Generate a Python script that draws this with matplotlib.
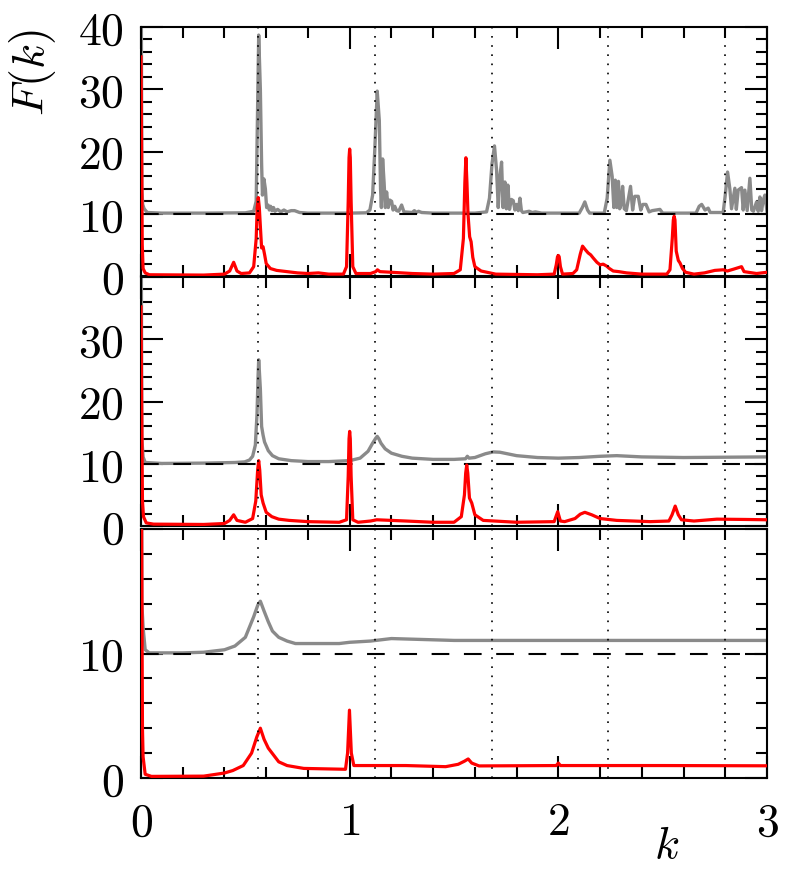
import matplotlib
matplotlib.use("Agg")
import matplotlib.pyplot as plt
from matplotlib.ticker import MultipleLocator

plt.rcParams['mathtext.fontset'] = 'cm'
plt.rcParams['font.family'] = ['DejaVu Serif']

# --- data ---
# top panel
k_gray_top = [0.0, 0.004, 0.008, 0.015, 0.03, 0.1, 0.3, 0.5, 0.54, 0.552, 0.558, 0.564, 0.572, 0.578,
              0.582, 0.589, 0.596, 0.602, 0.609, 0.615, 0.621, 0.628, 0.635, 0.642, 0.655, 0.67, 0.685,
              0.70, 0.72, 0.736, 0.76, 0.8, 1.0, 1.08, 1.097, 1.11, 1.12, 1.132, 1.142, 1.148, 1.152,
              1.158, 1.165, 1.171, 1.177, 1.185, 1.192, 1.201, 1.208, 1.216, 1.225, 1.235, 1.249, 1.26,
              1.3, 1.31, 1.32, 1.33, 1.345, 1.4, 1.6, 1.656, 1.67, 1.682, 1.694, 1.704, 1.712, 1.72,
              1.728, 1.735, 1.744, 1.751, 1.758, 1.766, 1.775, 1.784, 1.792, 1.80, 1.808, 1.816, 1.823,
              1.83, 1.86, 1.875, 1.89, 1.92, 2.1, 2.115, 2.127, 2.14, 2.15, 2.22, 2.234, 2.247, 2.258,
              2.266, 2.273, 2.28, 2.288, 2.294, 2.301, 2.308, 2.316, 2.326, 2.346, 2.356, 2.366, 2.383,
              2.395, 2.405, 2.42, 2.435, 2.45, 2.487, 2.5, 2.66, 2.675, 2.687, 2.703, 2.718, 2.728, 2.79,
              2.80, 2.811, 2.822, 2.83, 2.846, 2.853, 2.862, 2.878, 2.886, 2.894, 2.905, 2.918, 2.927,
              2.935, 2.950, 2.958, 2.966, 2.974, 2.982, 2.990, 3.0]
F_gray_top = [60, 14, 11.5, 10.8, 10.2, 10.1, 10.1, 10.15, 10.4, 12, 25, 38.7, 30, 18,
              13, 15.6, 14, 11, 11.4, 10.6, 11.2, 10.5, 11, 10.4, 10.7, 10.3, 10.6,
              10.3, 10.5, 10.5, 10.2, 10.1, 10.1, 10.15, 10.6, 13, 20, 29.7, 25, 14, 11,
              18.8, 15, 11, 13.5, 11, 12.2, 12, 10.6, 11.2, 10.5, 10.4, 11.4, 10.3,
              10.2, 10.5, 10.2, 10.4, 10.2, 10.1, 10.1, 10.3, 12.5, 18, 20.9, 17, 11, 16,
              18.3, 11, 15.1, 10.8, 14.6, 10.7, 12.3, 12.1, 10.6, 11.5, 10.5, 12.5, 10.5,
              10.2, 10.4, 10.2, 10.3, 10.1, 10.1, 11, 11.9, 10.6, 10.1, 10.1, 12.5, 18.6, 16,
              11, 15.4, 11, 15.2, 10.8, 11.5, 14.4, 10.8, 10.5, 14.4, 10.6, 12.8, 12.8,
              10.6, 11.5, 11.5, 10.3, 10.5, 10.7, 10.1, 10.1, 11.2, 11.5, 10.6, 10.9, 10.2, 10.2,
              13, 16.7, 14, 10.8, 14.1, 10.7, 13.8, 14.2, 10.6, 13.8, 10.5, 15.7, 10.6,
              10.4, 11.9, 10.4, 12.7, 10.5, 12.2, 13.0, 10.4]
k_red_top = [0.0, 0.003, 0.006, 0.01, 0.02, 0.04, 0.3, 0.4, 0.425, 0.444, 0.46, 0.48, 0.52, 0.54,
             0.552, 0.557, 0.562, 0.567, 0.572, 0.578, 0.585, 0.592, 0.60, 0.62, 0.65, 0.7, 0.75,
             0.8, 0.85, 0.9, 0.97, 0.985, 0.993, 0.997, 1.0, 1.003, 1.007, 1.015, 1.03, 1.1, 1.125,
             1.133, 1.145, 1.2, 1.3, 1.4, 1.5, 1.53, 1.545, 1.552, 1.557, 1.562, 1.567, 1.575, 1.582,
             1.59, 1.6, 1.63, 1.7, 1.9, 1.98, 1.99, 1.996, 2.0, 2.004, 2.01, 2.02, 2.07, 2.088, 2.105,
             2.116, 2.13, 2.143, 2.155, 2.167, 2.185, 2.2, 2.215, 2.231, 2.245, 2.263, 2.29, 2.327,
             2.4, 2.52, 2.535, 2.546, 2.551, 2.555, 2.559, 2.565, 2.575, 2.583, 2.595, 2.61, 2.65,
             2.7, 2.75, 2.79, 2.81, 2.84, 2.878, 2.89, 2.95, 3.0]
F_red_top = [35.2, 20, 5, 1.2, 0.5, 0.2, 0.15, 0.3, 0.8, 2.2, 0.8, 0.4, 0.5, 1.5,
             6, 11, 12.6, 11, 8, 4.5, 4.7, 3.5, 2, 1.2, 0.9, 0.7, 0.5,
             0.4, 0.5, 0.3, 0.3, 1.5, 12, 19, 20.4, 19, 12, 1.5, 0.4, 0.4, 0.7,
             1.0, 0.7, 0.6, 0.4, 0.3, 0.4, 1.0, 6, 15, 19.0, 15, 10, 6.3, 5.5,
             3, 1.5, 0.8, 0.3, 0.2, 0.3, 1.8, 3.1, 3.3, 3.1, 1.5, 0.3, 0.4, 1.0, 3.5,
             4.8, 4.2, 3.7, 3.4, 2.9, 2.2, 1.8, 1.9, 1.6, 1.2, 0.8, 0.7, 0.5,
             0.3, 0.3, 1.0, 6, 9.0, 9.6, 9.0, 4, 2.5, 2.1, 1.2, 0.6, 0.3,
             0.5, 0.9, 1.0, 0.8, 1.1, 1.5, 0.7, 0.4, 0.6]

# middle panel
k_gray_mid = [0.0, 0.004, 0.01, 0.02, 0.1, 0.3, 0.45, 0.497, 0.52, 0.535, 0.548, 0.556, 0.561, 0.564,
              0.567, 0.572, 0.578, 0.585, 0.592, 0.61, 0.63, 0.66, 0.72, 0.8, 0.9, 1.0, 1.05, 1.088,
              1.11, 1.125, 1.132, 1.14, 1.15, 1.17, 1.2, 1.25, 1.3, 1.4, 1.5, 1.555, 1.564, 1.572, 1.6,
              1.65, 1.688, 1.72, 1.8, 1.9, 2.0, 2.1, 2.2, 2.28, 2.4, 2.6, 2.8, 3.0]
F_gray_mid = [60, 14, 11.1, 10.2, 10.05, 10.1, 10.2, 10.3, 10.6, 11.2, 13, 18, 24, 26.7,
              25, 22, 16, 14.6, 13.5, 12.1, 11.3, 10.8, 10.5, 10.35, 10.35, 10.5, 10.9, 12.0,
              13.3, 14.1, 14.4, 14.0, 13.3, 12.4, 11.7, 11.2, 10.9, 10.7, 10.7, 10.8, 11.2, 10.9, 11.0,
              11.6, 11.9, 11.85, 11.3, 11.0, 10.9, 11.0, 11.2, 11.3, 11.1, 11.0, 11.05, 11.1]
k_red_mid = [0.0, 0.003, 0.007, 0.012, 0.025, 0.06, 0.3, 0.4, 0.425, 0.444, 0.46, 0.5, 0.535, 0.55,
             0.559, 0.564, 0.569, 0.576, 0.585, 0.6, 0.627, 0.66, 0.71, 0.8, 0.95, 0.985, 0.993,
             0.997, 1.0, 1.003, 1.007, 1.015, 1.04, 1.1, 1.13, 1.2, 1.27, 1.4, 1.5, 1.535, 1.55,
             1.556, 1.561, 1.566, 1.574, 1.585, 1.6, 1.64, 1.8, 1.98, 1.997, 2.01, 2.03, 2.08, 2.105,
             2.127, 2.16, 2.2, 2.28, 2.44, 2.53, 2.545, 2.56, 2.575, 2.59, 2.65, 2.76, 2.9, 3.0]
F_red_mid = [35.2, 20, 4, 1.5, 0.5, 0.3, 0.25, 0.4, 0.9, 1.8, 0.9, 0.6, 1.2, 4,
             9, 10.5, 9, 5, 3.7, 2.2, 1.5, 1.1, 0.9, 0.7, 0.6, 1.0, 8,
             14, 15.2, 14, 8, 1.0, 0.6, 0.8, 1.0, 0.9, 0.8, 0.6, 0.6, 1.5, 5,
             8.5, 9.8, 8.5, 4.5, 3.7, 1.8, 0.9, 0.6, 0.7, 2.3, 0.8, 0.7, 1.2, 1.9,
             2.2, 1.8, 1.2, 0.9, 0.7, 0.8, 1.8, 3.2, 1.8, 1.0, 0.8, 1.1, 1.05, 1.0]

# bottom panel
k_gray_bot = [0.0, 0.004, 0.01, 0.02, 0.04, 0.2, 0.3, 0.4, 0.45, 0.5, 0.54, 0.56, 0.572, 0.59, 0.61,
              0.63, 0.66, 0.7, 0.74, 0.95, 1.0, 1.1, 1.2, 1.3, 1.5, 2.0, 3.0]
F_gray_bot = [60, 14, 12.1, 10.3, 10.05, 10.05, 10.1, 10.3, 10.6, 11.3, 12.95, 13.9, 14.2, 13.4, 12.55,
              11.8, 11.3, 11.0, 10.8, 10.8, 10.9, 11.0, 11.2, 11.15, 11.05, 11.05, 11.05]
k_red_bot = [0.0, 0.003, 0.007, 0.01, 0.02, 0.05, 0.3, 0.4, 0.44, 0.49, 0.53, 0.555, 0.572, 0.59,
             0.61, 0.66, 0.7, 0.78, 0.98, 0.99, 0.999, 1.008, 1.02, 1.27, 1.46, 1.52, 1.55, 1.568,
             1.585, 1.62, 1.99, 2.0, 2.01, 2.5, 3.0]
F_red_bot = [36, 20, 4, 1.7, 0.3, 0.13, 0.15, 0.4, 0.6, 1.0, 2.0, 3.3, 4.0, 3.1,
             2.4, 1.3, 1.0, 0.77, 0.7, 2.0, 5.45, 2.0, 1.0, 1.0, 0.91, 1.1, 1.35, 1.53,
             1.2, 0.97, 1.0, 1.2, 1.0, 1.0, 0.98]

baseline = 10
k_marks = [0.56, 1.12, 1.68, 2.24, 2.80]

panels = [
    (k_gray_top, F_gray_top, k_red_top, F_red_top, 40, ['0', '10', '20', '30', '40']),
    (k_gray_mid, F_gray_mid, k_red_mid, F_red_mid, 40, ['0', '10', '20', '30', '']),
    (k_gray_bot, F_gray_bot, k_red_bot, F_red_bot, 20, ['0', '10', '']),
]
x_ticks = [0, 1, 2, 3]

fig = plt.figure(figsize=(7.86, 8.69), dpi=100)
W, H = 786, 869
left, right = 141, 767
rows = [(27, 276), (277, 526), (529, 778)]
gray = '#8a8a8a'
fs = 33

for i, (kg, Fg, kr, Fr, ymax, ylabels) in enumerate(panels):
    top, bot = rows[i]
    ax = fig.add_axes([left / W, 1 - bot / H, (right - left) / W, (bot - top) / H])
    ax.plot(kg, Fg, color=gray, lw=2.4, zorder=2)
    ax.axhline(baseline, color='black', lw=1.5, dashes=(8.5, 7), zorder=3)
    ax.plot(kr, Fr, color='red', lw=2.3, zorder=4)
    for km in k_marks:
        ax.axvline(km, color='black', lw=1.2, dashes=(1, 4.5), zorder=5)
    ax.set_xlim(0, 3)
    ax.set_ylim(0, ymax)
    yt = list(range(0, ymax + 1, 10))
    ax.set_yticks(yt, ['$%s$' % s if s else '' for s in ylabels])
    ax.yaxis.set_minor_locator(MultipleLocator(2))
    ax.xaxis.set_minor_locator(MultipleLocator(0.2))
    if i == 2:
        ax.set_xticks(x_ticks, ['$%d$' % v for v in x_ticks])
    else:
        ax.set_xticks(x_ticks, ['' for v in x_ticks])
    ax.tick_params(which='both', direction='in', top=True, right=True, width=1.5,
                   labelsize=fs)
    ax.tick_params(which='major', length=16)
    ax.tick_params(which='minor', length=8)
    ax.tick_params(axis='y', pad=12)
    ax.tick_params(axis='x', pad=16)
    for sp in ax.spines.values():
        sp.set_linewidth(1.5)

fig.text(32 / W, 1 - 73 / H, '$F(k)$', rotation=90, ha='center', va='center', fontsize=fs)
fig.text(667 / W, 1 - 845 / H, '$k$', ha='center', va='center', fontsize=fs)

fig.savefig('out.png', dpi=100)
